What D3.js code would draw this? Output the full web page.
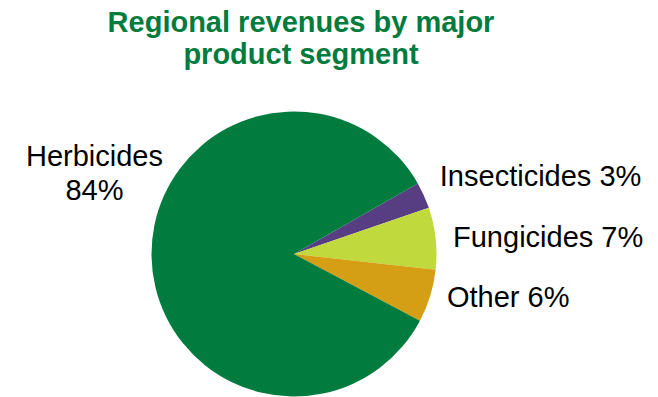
<!DOCTYPE html>
<html>
<head>
<meta charset="utf-8">
<script src="https://cdn.jsdelivr.net/npm/d3@7"></script>
<style>
  body { margin: 0; background: #fff; }
  text { font-family: "Liberation Sans", Arial, sans-serif; }
</style>
</head>
<body>
<script>
const width = 658;
const height = 397;

// slices in drawing order, clockwise from the upper right
const segments = ["Insecticides", "Fungicides", "Other", "Herbicides"];
const shares = [3, 7, 6, 84];
const colors = ["#573d82", "#c0d93c", "#d49e15", "#017c3e"];
const titleLines = ["Regional revenues by major", "product segment"];

const cx = 294;
const cy = 254;
const radius = 142.5;
const startDeg = 60.3;

let svg = d3.select('body')
            .append('svg')
            .attr('width', width)
            .attr('height', height);

svg.selectAll('text.title')
   .data(titleLines)
   .enter()
   .append('text')
   .attr('class', 'title')
   .attr('x', 301)
   .attr('y', (d, i) => 32 + i * 31.5)
   .attr('text-anchor', 'middle')
   .attr('font-size', 29)
   .attr('font-weight', 'bold')
   .attr('fill', '#017c3e')
   .text(d => d);

const data = segments.map((s, i) => ({ name: s, value: shares[i], color: colors[i] }));

const pie = d3.pie()
              .sort(null)
              .value(d => d.value)
              .startAngle(startDeg * Math.PI / 180)
              .endAngle(startDeg * Math.PI / 180 + 2 * Math.PI);

const arc = d3.arc().innerRadius(0).outerRadius(radius);

let g = svg.append('g').attr('transform', `translate(${cx},${cy})`);

const arcs = pie(data);

g.selectAll('path')
 .data(arcs)
 .enter()
 .append('path')
 .attr('d', arc)
 .attr('fill', d => d.data.color);

// small slices: labels stacked on the right, x follows the slice angle
const small = arcs.filter(d => d.data.name !== 'Herbicides');
g.selectAll('text.lbl')
 .data(small)
 .enter()
 .append('text')
 .attr('class', 'lbl')
 .attr('x', d => 160 * Math.sin((d.startAngle + d.endAngle) / 2))
 .attr('y', (d, i) => -68 + i * 60.5)
 .attr('font-size', 29)
 .attr('fill', '#000')
 .text(d => `${d.data.name} ${d.data.value}%`);

// big slice label on the upper left
const big = arcs.find(d => d.data.name === 'Herbicides');
let bigLabel = g.append('text')
                .attr('text-anchor', 'middle')
                .attr('font-size', 29)
                .attr('fill', '#000');
bigLabel.append('tspan')
        .attr('x', -radius - 57)
        .attr('y', -88)
        .text(big.data.name);
bigLabel.append('tspan')
        .attr('x', -radius - 57)
        .attr('y', -54)
        .text(big.data.value + '%');
</script>
</body>
</html>
